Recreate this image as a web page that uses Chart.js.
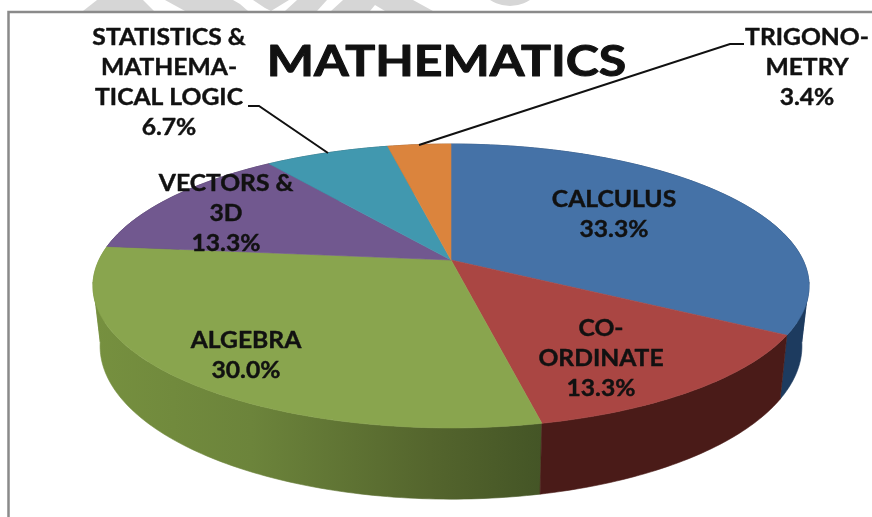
<!DOCTYPE html>
<html>
<head>
<meta charset="utf-8">
<style>
  html, body { margin: 0; padding: 0; background: #fff; }
  canvas { display: block; }
</style>
<script src="https://cdn.jsdelivr.net/npm/chart.js@4"></script>
</head>
<body>
<canvas id="pie" width="872" height="517"></canvas>
<script>
// Slices, clockwise from the top
const categories = ["CALCULUS", "CO-ORDINATE", "ALGEBRA", "VECTORS & 3D", "STATISTICS & MATHEMATICAL LOGIC", "TRIGONOMETRY"];
const values = [33.3, 13.3, 30.0, 13.3, 6.7, 3.4];
const labelLines = [["CALCULUS"], ["CO-", "ORDINATE"], ["ALGEBRA"], ["VECTORS &", "3D"], ["STATISTICS &", "MATHEMA-", "TICAL LOGIC"], ["TRIGONO-", "METRY"]];
const titleText = "MATHEMATICS";

const topColors = ["#4572a7", "#aa4643", "#89a54e", "#71588f", "#4198af", "#db843d"];

// x,y of the first label line of each slice, 30px between lines
const labelSpots = [[614, 200], [601, 329], [246, 341], [226, 184], [169, 38], [807, 38]];

// Perspective of the tilted disc, top face and bottom face
const topFace = { x: 451, y: 260, bx: 352, by: 137.2, k: 0.183 };
const bottomFace = { x: 451, y: 318, bx: 345, by: 148, k: 0.183 };

// angles where the wall folds over at the left and right silhouette
const foldAngles = [9 * Math.PI / 180, 171 * Math.PI / 180];

function project(face, angle) {
  const u = Math.cos(angle), v = Math.sin(angle);
  const d = 1 - face.k * v;
  return [face.x + face.bx * u / d, face.y + face.by * v / d];
}

function arcPoints(face, start, end) {
  const pts = [];
  const steps = Math.max(2, Math.ceil((end - start) * 60));
  for (let i = 0; i <= steps; i++) {
    pts.push(project(face, start + (end - start) * i / steps));
  }
  return pts;
}

function tracePath(ctx, pts) {
  ctx.beginPath();
  pts.forEach((p, i) => i ? ctx.lineTo(p[0], p[1]) : ctx.moveTo(p[0], p[1]));
  ctx.closePath();
}

function fillPath(ctx, pts, color) {
  tracePath(ctx, pts);
  ctx.fillStyle = color;
  ctx.strokeStyle = color;
  ctx.lineWidth = 0.6;
  ctx.fill();
  ctx.stroke();
}

// the reference is stretched sideways, so the text is too
function wideText(ctx, text, x, y, stretch, weight) {
  ctx.save();
  ctx.translate(x, y);
  ctx.scale(stretch, 1);
  ctx.lineWidth = weight;
  ctx.strokeText(text, 0, 0);
  ctx.fillText(text, 0, 0);
  ctx.restore();
}

const disc3d = {
  id: "disc3d",
  beforeDatasetsDraw(chart) {
    const ctx = chart.ctx;
    const arcs = chart.getDatasetMeta(0).data;

    // side wall colours
    const greenWall = ctx.createLinearGradient(95, 0, 542, 0);
    greenWall.addColorStop(0, "#76903f");
    greenWall.addColorStop(0.35, "#6c843b");
    greenWall.addColorStop(0.75, "#54652d");
    greenWall.addColorStop(1, "#445526");
    const sideColors = ["#1d3b5f", "#4a1b18", greenWall, "#3f2f52", "#20505e", "#7a4620"];

    ctx.save();
    [3, 4, 5, 0, 2, 1].forEach(i => {
      const a = arcs[i];
      // split at the folds so no part of the band cancels itself out
      const cuts = [a.startAngle]
        .concat(foldAngles.filter(f => f > a.startAngle && f < a.endAngle), a.endAngle);
      for (let n = 0; n < cuts.length - 1; n++) {
        const wall = arcPoints(topFace, cuts[n], cuts[n + 1])
          .concat(arcPoints(bottomFace, cuts[n], cuts[n + 1]).reverse());
        fillPath(ctx, wall, sideColors[i]);
      }
    });
    arcs.forEach((a, i) => {
      const face = [[topFace.x, topFace.y]].concat(arcPoints(topFace, a.startAngle, a.endAngle));
      fillPath(ctx, face, topColors[i]);
    });
    ctx.restore();
    return false; // the arcs are drawn above, in perspective
  }
};

const annotations = {
  id: "annotations",
  afterDraw(chart) {
    const ctx = chart.ctx;
    ctx.save();

    // watermark showing above the frame
    ctx.fillStyle = "#d6d6d6";
    [
      [[83, 11], [97, 0], [143, 0], [154, 11]],
      [[185, 11], [165, 0], [233, 0], [240, 4], [248, 11]],
      [[253, 0], [289, 0], [271, 11], [265, 8]],
      [[297, 0], [327, 0], [317, 11], [285, 11]],
      [[343, 0], [413, 0], [433, 11], [385, 11], [375, 5], [370, 11], [331, 11]]
    ].forEach(shape => {
      tracePath(ctx, shape);
      ctx.fill();
    });
    ctx.beginPath();
    ctx.arc(510, -30, 36, 0, Math.PI * 2);
    ctx.fill();

    // frame, open on the right and at the bottom
    ctx.strokeStyle = "#8a8a8a";
    ctx.lineWidth = 2.5;
    ctx.beginPath();
    ctx.moveTo(8.5, 517);
    ctx.lineTo(8.5, 12);
    ctx.lineTo(872, 12);
    ctx.stroke();

    // leader lines
    ctx.strokeStyle = "#111";
    ctx.lineWidth = 2;
    ctx.beginPath();
    ctx.moveTo(248, 106);
    ctx.lineTo(259, 106);
    ctx.lineTo(328, 153);
    ctx.moveTo(744, 44);
    ctx.lineTo(730, 44);
    ctx.lineTo(419, 145);
    ctx.stroke();

    ctx.textAlign = "center";
    ctx.textBaseline = "middle";
    ctx.fillStyle = "#111";
    ctx.strokeStyle = "#111";
    ctx.lineJoin = "round";

    ctx.font = "bold 42px Lato";
    wideText(ctx, titleText, 446.5, 62, 1.19, 1);

    ctx.font = "bold 22px Lato";
    categories.forEach((c, i) => {
      const lines = labelLines[i].concat(values[i].toFixed(1) + "%");
      lines.forEach((line, n) => {
        wideText(ctx, line, labelSpots[i][0], labelSpots[i][1] + n * 30, 1.12, 0.4);
      });
    });
    ctx.restore();
  }
};

new Chart(document.getElementById("pie").getContext("2d"), {
  type: "pie",
  data: {
    labels: categories,
    datasets: [{ data: values, backgroundColor: topColors, borderWidth: 0 }]
  },
  options: {
    responsive: false,
    animation: false,
    plugins: {
      legend: { display: false },
      tooltip: { enabled: false }
    }
  },
  plugins: [disc3d, annotations]
});
</script>
</body>
</html>
